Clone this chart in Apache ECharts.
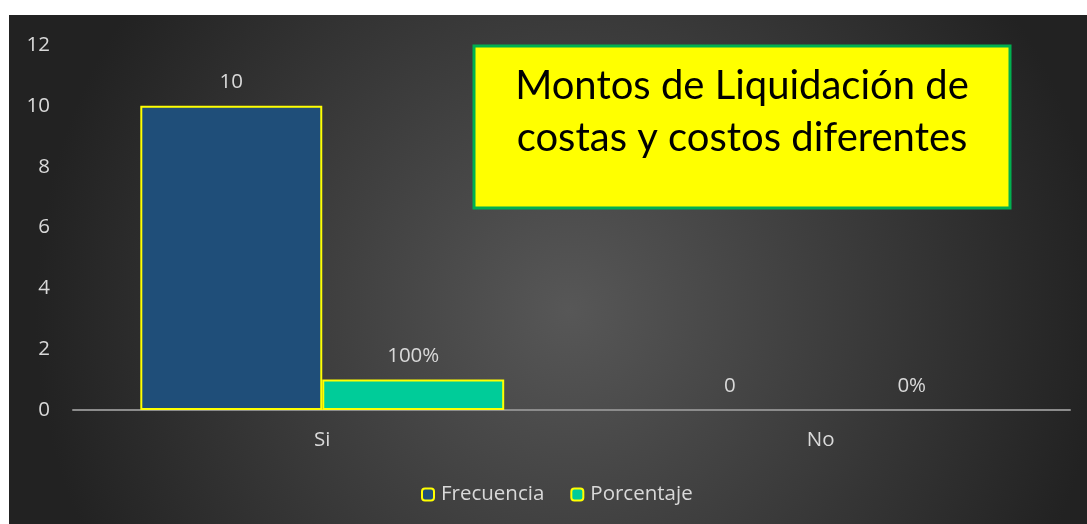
<!DOCTYPE html>
<html lang="es">
<head>
<meta charset="UTF-8">
<title>Montos de Liquidación</title>
<script src="https://cdn.jsdelivr.net/npm/echarts@6/dist/echarts.min.js"></script>
<style>
    html, body {
        margin: 0;
        background: #ffffff;
    }
    #chart {
        position: absolute;
        left: 9px;
        top: 15px;
        width: 1078px;
        height: 509px;
    }
</style>
</head>
<body>

<div id="chart"></div>

<script>
var categories = ['Si', 'No'];
var frecuencia = [10, 0];
var porcentaje = [1, 0];          // 100% drawn as 1 on the count axis
var porcentajeLabels = ['100%', '0%'];
var yTicks = [0, 2, 4, 6, 8, 10, 12];

var myChart = echarts.init(document.getElementById('chart'));

var labelStyle = {
    show: true,
    position: 'top',
    distance: 13,
    color: '#d9d9d9',
    fontSize: 20.5,
    fontFamily: 'Open Sans'
};

// zero-height bars get no yellow outline
function toItems(values) {
    return values.map(function (v) {
        return v === 0 ? { value: v, itemStyle: { borderWidth: 0 } } : v;
    });
}

var option = {
    backgroundColor: {
        type: 'radial',
        x: 0.52, y: 0.58, r: 1.05,
        colorStops: [
            { offset: 0, color: '#575757' },
            { offset: 1, color: '#222222' }
        ]
    },
    textStyle: { fontFamily: 'Open Sans' },
    grid: {
        left: 64,
        right: 17,
        top: 30,
        bottom: 114
    },
    legend: {
        bottom: 14,
        left: 407,
        itemWidth: 12,
        itemHeight: 12,
        itemGap: 26,
        textStyle: { color: '#d9d9d9', fontSize: 20.5, fontFamily: 'Open Sans', padding: [0, 0, 0, 2] },
        data: ['Frecuencia', 'Porcentaje']
    },
    xAxis: {
        type: 'category',
        data: categories,
        axisLine: { lineStyle: { color: '#8c8c8c', width: 2 } },
        axisTick: { show: false },
        axisLabel: { color: '#d9d9d9', fontSize: 20.5, margin: 20 }
    },
    yAxis: {
        type: 'value',
        min: yTicks[0],
        max: yTicks[yTicks.length - 1],
        interval: 2,
        splitLine: { show: false },
        axisLine: { show: false },
        axisTick: { show: false },
        axisLabel: { color: '#d9d9d9', fontSize: 20.5, margin: 23 }
    },
    series: [
        {
            name: 'Frecuencia',
            type: 'bar',
            data: toItems(frecuencia),
            barWidth: '36.5%',
            barGap: '0%',
            itemStyle: { color: '#1f4e79', borderColor: '#ffff00', borderWidth: 2 },
            label: labelStyle
        },
        {
            name: 'Porcentaje',
            type: 'bar',
            data: toItems(porcentaje),
            barWidth: '36.5%',
            itemStyle: { color: '#00cc99', borderColor: '#ffff00', borderWidth: 2 },
            label: Object.assign({}, labelStyle, {
                formatter: function (p) { return porcentajeLabels[p.dataIndex]; }
            })
        }
    ],
    graphic: [
        {
            type: 'rect',
            shape: { x: 465, y: 31, width: 536, height: 162 },
            style: { fill: '#ffff00', stroke: '#00b050', lineWidth: 3 }
        },
        {
            type: 'text',
            x: 733,
            y: 97,
            style: {
                text: 'Montos de Liquidación de\ncostas y costos diferentes',
                fill: '#000000',
                font: '40px Lato',
                lineHeight: 52,
                align: 'center',
                verticalAlign: 'middle'
            }
        }
    ]
};

myChart.setOption(option);
</script>

</body>
</html>
